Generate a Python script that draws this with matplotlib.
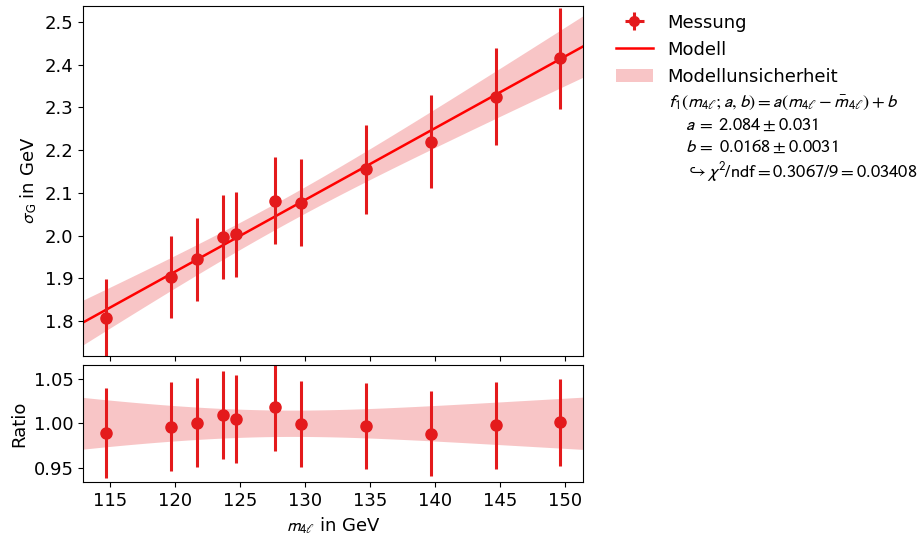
import numpy as np
import matplotlib
matplotlib.use("Agg")
import matplotlib.pyplot as plt
from matplotlib.lines import Line2D
from matplotlib.patches import Patch

plt.rcParams["mathtext.fontset"] = "stixsans"

# Messpunkte
m4l = np.array([114.7, 119.7, 121.7, 123.7, 124.7, 127.7, 129.7, 134.7, 139.7, 144.7, 149.6])
sigma_g = np.array([1.806, 1.903, 1.945, 1.996, 2.003, 2.082, 2.077, 2.155, 2.220, 2.325, 2.415])
sigma_g_err = np.array([0.093, 0.095, 0.097, 0.098, 0.099, 0.101, 0.101, 0.104, 0.108, 0.114, 0.118])

# Fitparameter
a, a_err = 2.084, 0.031
b, b_err = 0.0168, 0.0031
cov_ab = 1.5e-5
b_err_band = 0.0028
chi2, ndf = 0.3067, 9

m_mean = m4l.mean()
x_lim = (112.97, 151.36)


def modell(x):
    return a + b * (x - m_mean)


def modell_err(x):
    dx = x - m_mean
    return np.sqrt(a_err**2 + (b_err_band * dx)**2 + 2 * cov_ab * dx)


col = "#e41a1c"
x = np.linspace(*x_lim, 300)
y = modell(x)
dy = modell_err(x)

fig = plt.figure(figsize=(9.22, 5.36), dpi=100)
ax = fig.add_axes([0.0903, 0.3364, 0.5417, 0.6524])
rax = fig.add_axes([0.0903, 0.1002, 0.5417, 0.2194], sharex=ax)

ax.fill_between(x, y - dy, y + dy, color=col, alpha=0.25, lw=0)
ax.plot(x, y, color="red", lw=1.8)
ax.errorbar(m4l, sigma_g, yerr=sigma_g_err, fmt="o", color=col, ms=8, elinewidth=2.2)
ax.set_xlim(*x_lim)
ax.set_ylim(1.719, 2.537)
ax.set_ylabel(r"$\sigma_\mathrm{G}$ in GeV", fontsize=13)
ax.tick_params(labelsize=13, labelbottom=False)

ratio = sigma_g / modell(m4l)
ratio_err = sigma_g_err / modell(m4l)
rax.fill_between(x, 1 - dy / y, 1 + dy / y, color=col, alpha=0.25, lw=0)
rax.errorbar(m4l, ratio, yerr=ratio_err, fmt="o", color=col, ms=8, elinewidth=2.2)
rax.set_ylim(0.9335, 1.066)
rax.set_yticks([0.95, 1.00, 1.05])
rax.set_ylabel("Ratio", fontsize=13)
rax.set_xlabel(r"$m_{4\ell}$ in GeV", fontsize=13)
rax.tick_params(labelsize=13)

handles = [
    ax.errorbar([], [], xerr=[], yerr=[], fmt="o", color=col, ms=7, elinewidth=2.2),
    Line2D([], [], color="red", lw=1.8),
    Patch(color=col, alpha=0.25, lw=0),
]
ax.legend(handles, ["Messung", "Modell", "Modellunsicherheit"],
          loc="upper left", bbox_to_anchor=(1.035, 1.025), frameon=False,
          fontsize=13, handlelength=2.0)

fit_text = (
    r"$f_1(m_{4\ell}; a, b) = a(m_{4\ell} - \bar{m}_{4\ell}) + b$" "\n"
    rf"   $a\,=\;{a:.3f} \pm {a_err:.3f}$" "\n"
    rf"   $b\,=\;{b:.4f} \pm {b_err:.4f}$" "\n"
    rf"   $\hookrightarrow \chi^2/\mathrm{{ndf}} = {chi2:.4f}/{ndf} = {chi2/ndf:.5f}$"
)
fig.text(0.724, 0.826, fit_text, fontsize=13.3, va="top", ha="left", linespacing=1.28)

fig.savefig("out.png", dpi=100)
